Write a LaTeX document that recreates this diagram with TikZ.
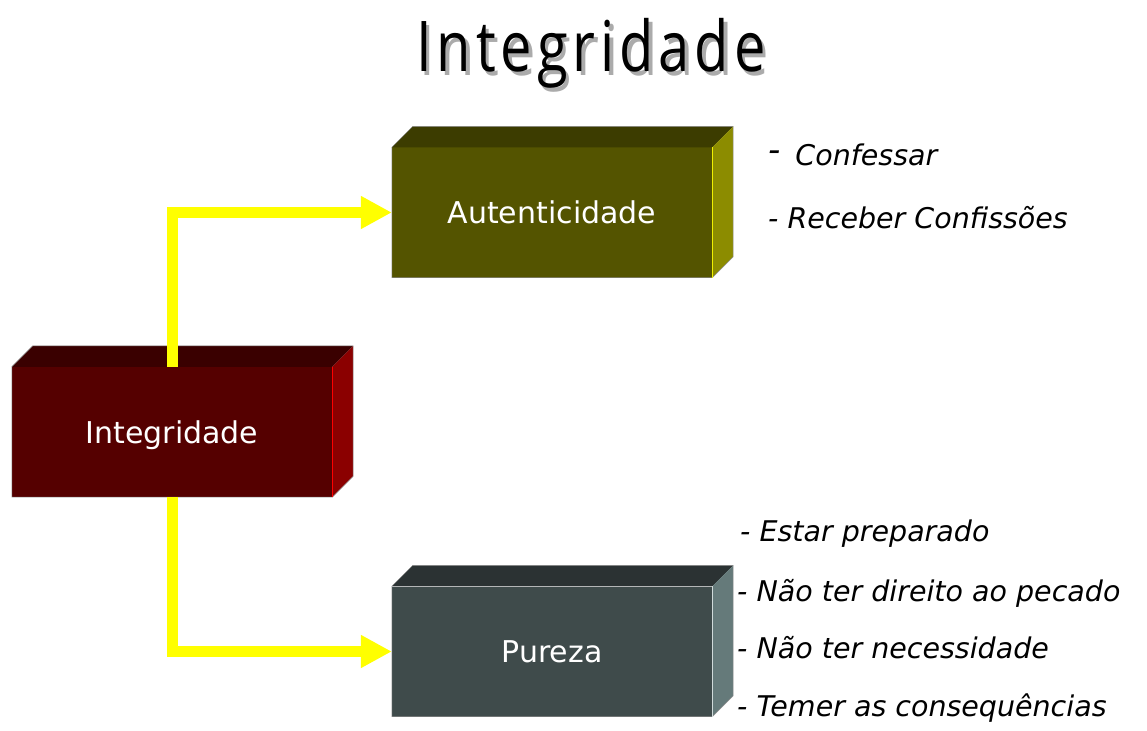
\documentclass[tikz,border=0pt]{standalone}
\usepackage{fontspec}
\setmainfont{DejaVu Sans}
\newfontfamily\titlefont[FakeStretch=0.8,LetterSpace=7]{Open Sans}
\usetikzlibrary{arrows.meta,calc}

\definecolor{redfront}{HTML}{550000}
\definecolor{redtop}{HTML}{3A0000}
\definecolor{redside}{HTML}{8B0000}
\definecolor{rededge}{HTML}{FF0000}
\definecolor{olivefront}{HTML}{545400}
\definecolor{olivetop}{HTML}{3C3C00}
\definecolor{oliveside}{HTML}{8C8C00}
\definecolor{oliveedge}{HTML}{F0F000}
\definecolor{greyfront}{HTML}{3F4B4B}
\definecolor{greytop}{HTML}{2B3233}
\definecolor{greyside}{HTML}{657A7A}
\definecolor{greyedge}{HTML}{D0DADA}
\definecolor{arrowyellow}{HTML}{FFFF00}
\definecolor{shadowgrey}{HTML}{ABABAB}

\newcommand\boxfaces[4]{%
  \fill[#2] (#1.north west) -- ++(21,-21) -- ($(#1.north east)+(21,-21)$) -- (#1.north east) -- cycle;
  \fill[#3] (#1.north east) -- ++(21,-21) -- ($(#1.south east)+(21,-21)$) -- (#1.south east) -- cycle;
  \draw[black!45, line width=0.5pt] (#1.south west) -- (#1.north west) -- ++(21,-21) -- ($(#1.north east)+(21,-21)$) -- ($(#1.south east)+(21,-21)$) -- (#1.south east) -- cycle;
  \draw[#4, line width=1.2pt] (#1.north east) -- (#1.south east);
}

\tikzset{
  frontbox/.style={fill=#1, minimum width=320pt, minimum height=130pt, inner sep=0pt,
    text=white, font=\fontsize{30}{32}\selectfont, text height=22.8pt, text depth=0pt},
  arrowline/.style={draw=arrowyellow, line width=11pt, line join=miter, line cap=butt,
    -{Triangle[length=31pt,width=31pt]}},
  itemtext/.style={anchor=base west, inner sep=0pt, font=\fontsize{28.5}{30}\selectfont\itshape},
  titletext/.style={anchor=base, inner sep=0pt, font=\titlefont\fontsize{70}{72}\selectfont}
}

\begin{document}
\begin{tikzpicture}[x=1pt,y=-1pt]
\useasboundingbox[fill=white] (0,0) rectangle (1147,730);

% title with its shadow (one text)
\node[titletext] (title) at (591,72)
  {\rlap{\hspace{3.5pt}\raisebox{-3.5pt}{\color{shadowgrey}Integridade}}Integridade};

% boxes
\node[frontbox=redfront] (intg) at (172,432) {Integridade};
\boxfaces{intg}{redtop}{redside}{rededge}
\node[frontbox=olivefront] (aut) at (552,212.5) {Autenticidade};
\boxfaces{aut}{olivetop}{oliveside}{oliveedge}
\node[frontbox=greyfront] (pur) at (552,651.5) {Pureza};
\boxfaces{pur}{greytop}{greyside}{greyedge}

% arrows
\draw[arrowline] (intg.north) |- (aut.west);
\draw[arrowline] (intg.south) |- (pur.west);

% item texts
\node[itemtext] (t1) at (768,165) {{\fontsize{34}{34}\selectfont\raisebox{3pt}{-}}\hspace{15pt}Confessar};
\node[itemtext] (t2) at (768,228.3) {- Receber Confissões};
\node[itemtext] (t3) at (740,541) {- Estar preparado};
\node[itemtext] (t4) at (737,601.7) {- Não ter direito ao pecado};
\node[itemtext] (t5) at (737,658) {- Não ter necessidade};
\node[itemtext] (t6) at (737,716.7) {- Temer as consequências};
\end{tikzpicture}
\end{document}
